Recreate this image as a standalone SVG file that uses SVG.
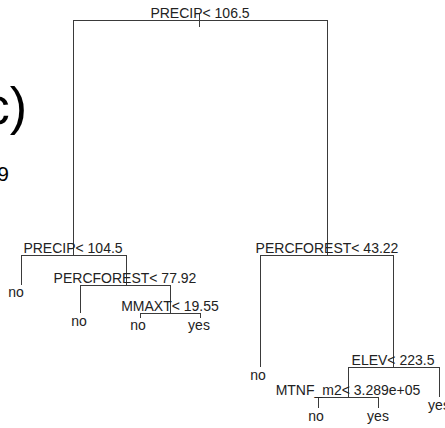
<svg xmlns="http://www.w3.org/2000/svg" width="445" height="428" viewBox="0 0 445 428">
<style>
.e{stroke:#3a3a3a;stroke-width:1;fill:none;shape-rendering:crispEdges}
.s{font-family:"Liberation Sans",Arial,sans-serif;font-size:14px;fill:#222;text-anchor:middle}
.l{font-family:"Liberation Sans",Arial,sans-serif;font-size:14px;fill:#222;text-anchor:middle}
.big{font-family:"Liberation Sans",Arial,sans-serif;fill:#000;text-anchor:end}
</style>
<rect width="445" height="428" fill="#fff"/>
<text class="big" x="27" y="124" font-size="52">c)</text>
<text class="big" x="9" y="181" font-size="21">9</text>
<g id="connectors">
<path class="e" d="M199.5 13V27"/>
<path class="e" d="M73.5 255.5V20.5H327.5V255.5"/>
<path class="e" d="M21.5 285V255.5H126.5V285.5"/>
<path class="e" d="M80.5 313V285.5H170.5V313.5"/>
<path class="e" d="M140.5 318V313.5H200.5V318"/>
<path class="e" d="M260.5 367V255.5H393.5V367.5"/>
<path class="e" d="M348.5 397.5V367.5H439.5V397"/>
<path class="e" d="M318.5 408V397.5H378.5V408"/>
</g>
<g id="n1"><text class="s" x="200" y="18">PRECIP&lt; 106.5</text></g>
<g id="n2"><text class="s" x="73" y="253">PRECIP&lt; 104.5</text></g>
<g id="n3"><text class="s" x="125" y="283">PERCFOREST&lt; 77.92</text></g>
<g id="n4"><text class="s" x="170" y="311">MMAXT&lt; 19.55</text></g>
<g id="n5"><text class="s" x="327" y="253">PERCFOREST&lt; 43.22</text></g>
<g id="n6"><text class="s" x="393" y="365">ELEV&lt; 223.5</text></g>
<g id="n7"><text class="s" x="348" y="395">MTNF_m2&lt; 3.289e+05</text></g>
<g id="leaf1"><text class="l" x="16" y="297">no</text></g>
<g id="leaf2"><text class="l" x="79" y="326">no</text></g>
<g id="leaf3"><text class="l" x="138" y="330">no</text></g>
<g id="leaf4"><text class="l" x="199" y="330">yes</text></g>
<g id="leaf5"><text class="l" x="258" y="380">no</text></g>
<g id="leaf6"><text class="l" x="316" y="421">no</text></g>
<g id="leaf7"><text class="l" x="378" y="421">yes</text></g>
<g id="leaf8"><text class="l" x="439" y="410">yes</text></g>
</svg>
